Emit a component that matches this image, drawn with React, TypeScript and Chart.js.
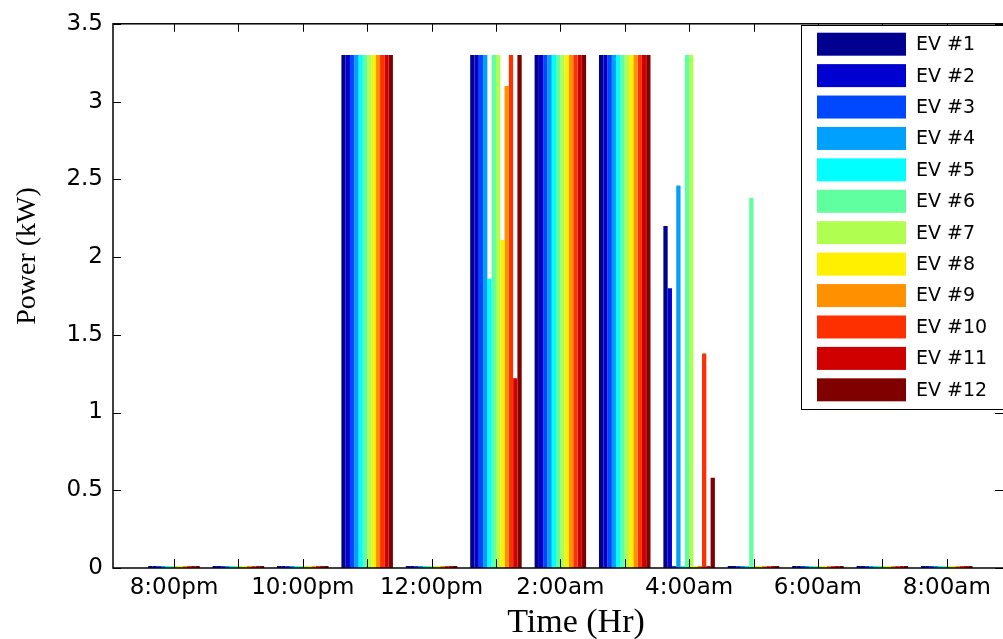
import React, { useEffect, useRef } from 'react';
import { Chart, registerables } from 'chart.js';

Chart.register(...registerables);

// ---- data ----
const HOUR_POSITIONS = [1, 2, 3, 4, 5, 6, 7, 8, 9, 10, 11, 12, 13];
const TICK_LABELS = ['8:00pm', '', '10:00pm', '', '12:00pm', '', '2:00am', '', '4:00am', '', '6:00am', '', '8:00am'];
const EV_LABELS = ['EV #1', 'EV #2', 'EV #3', 'EV #4', 'EV #5', 'EV #6', 'EV #7', 'EV #8', 'EV #9', 'EV #10', 'EV #11', 'EV #12'];
const EV_COLORS = ['#000090', '#0000D0', '#0048FF', '#00A0FF', '#00FFFF', '#60FFA0', '#B0FF50', '#FFF000', '#FF9000', '#FF3000', '#D00000', '#800000'];

const EV1 = [0, 0, 0, 3.3, 0, 3.3, 3.3, 3.3, 2.2, 0, 0, 0, 0];
const EV2 = [0, 0, 0, 3.3, 0, 3.3, 3.3, 3.3, 1.8, 0, 0, 0, 0];
const EV3 = [0, 0, 0, 3.3, 0, 3.3, 3.3, 3.3, 0, 0, 0, 0, 0];
const EV4 = [0, 0, 0, 3.3, 0, 3.3, 3.3, 3.3, 2.46, 0, 0, 0, 0];
const EV5 = [0, 0, 0, 3.3, 0, 1.86, 3.3, 3.3, 0, 0, 0, 0, 0];
const EV6 = [0, 0, 0, 3.3, 0, 3.3, 3.3, 3.3, 3.3, 2.38, 0, 0, 0];
const EV7 = [0, 0, 0, 3.3, 0, 3.3, 3.3, 3.3, 3.3, 0, 0, 0, 0];
const EV8 = [0, 0, 0, 3.3, 0, 2.11, 3.3, 3.3, 0, 0, 0, 0, 0];
const EV9 = [0, 0, 0, 3.3, 0, 3.1, 3.3, 3.3, 0, 0, 0, 0, 0];
const EV10 = [0, 0, 0, 3.3, 0, 3.3, 3.3, 3.3, 1.38, 0, 0, 0, 0];
const EV11 = [0, 0, 0, 3.3, 0, 1.22, 3.3, 3.3, 0, 0, 0, 0, 0];
const EV12 = [0, 0, 0, 3.3, 0, 3.3, 3.3, 3.3, 0.58, 0, 0, 0, 0];
const EV_SERIES = [EV1, EV2, EV3, EV4, EV5, EV6, EV7, EV8, EV9, EV10, EV11, EV12];

const X_MIN = 0.053;
const X_MAX = 13.874;
const Y_MIN = 0;
const Y_MAX = 3.5;
const Y_STEP = 0.5;

const X_TITLE = 'Time (Hr)';
const Y_TITLE = 'Power (kW)';

const decor = {
  id: 'decor',
  afterDraw(chart: any) {
    const { ctx, chartArea } = chart;
    const { left, right, top, bottom } = chartArea;
    const xs = chart.scales.x;
    const ys = chart.scales.y;
    ctx.save();
    // frame
    ctx.strokeStyle = '#000';
    ctx.lineWidth = 1.5;
    ctx.strokeRect(left, top, right - left + 2, bottom - top);
    // inward ticks
    ctx.lineWidth = 1;
    ctx.beginPath();
    xs.ticks.forEach((t: any) => {
      const px = Math.round(xs.getPixelForValue(t.value)) + 0.5;
      ctx.moveTo(px, bottom);
      ctx.lineTo(px, bottom - 9);
      ctx.moveTo(px, top);
      ctx.lineTo(px, top + 8);
    });
    ys.ticks.forEach((t: any) => {
      const py = Math.round(ys.getPixelForValue(t.value)) + 0.5;
      ctx.moveTo(left, py);
      ctx.lineTo(left + 8, py);
      ctx.moveTo(right, py);
      ctx.lineTo(right - 8, py);
    });
    ctx.stroke();

    // axis titles
    ctx.fillStyle = '#000';
    ctx.font = '34px "Liberation Serif", "Times New Roman", serif';
    ctx.textAlign = 'center';
    ctx.textBaseline = 'alphabetic';
    ctx.fillText(X_TITLE, 576, 632);
    ctx.save();
    ctx.translate(35, 256);
    ctx.rotate(-Math.PI / 2);
    ctx.font = '28px "Liberation Serif", "Times New Roman", serif';
    ctx.fillText(Y_TITLE, 0, 0);
    ctx.restore();

    // legend
    const lx = 801;
    const ly = 25;
    const lb = 409;
    ctx.fillStyle = '#fff';
    ctx.fillRect(lx, ly, 1010 - lx, lb - ly);
    ctx.strokeStyle = '#000';
    ctx.lineWidth = 1;
    ctx.strokeRect(lx + 0.5, ly + 0.5, 1010 - lx, lb - ly);
    ctx.font = '19px "DejaVu Sans", sans-serif';
    ctx.textAlign = 'left';
    ctx.textBaseline = 'middle';
    chart.data.datasets.forEach((ds: any, i: number) => {
      const sy = 32.7 + i * 31.42;
      ctx.fillStyle = ds.backgroundColor;
      ctx.fillRect(817, sy, 89, 23);
      ctx.fillStyle = '#000';
      ctx.fillText(ds.label, 916, sy + 12.5);
    });
    ctx.restore();
  },
};

export default function App() {
  const canvasRef = useRef<HTMLCanvasElement | null>(null);

  useEffect(() => {
    if (!canvasRef.current) return;
    const datasets = EV_SERIES.map((series, i) => ({
      label: EV_LABELS[i],
      data: series.map((v, j) => ({ x: HOUR_POSITIONS[j], y: v })),
      backgroundColor: EV_COLORS[i],
      borderWidth: 0,
      minBarLength: 2,
      barPercentage: 1,
      categoryPercentage: 0.8,
    }));
    const chart = new Chart(canvasRef.current, {
      type: 'bar',
      data: { datasets },
      options: {
        animation: false,
        responsive: true,
        maintainAspectRatio: false,
        events: [],
        layout: { padding: { top: 16, right: 0, left: 0, bottom: 0 } },
        plugins: { legend: { display: false }, tooltip: { enabled: false }, title: { display: false } },
        scales: {
          x: {
            type: 'linear',
            min: X_MIN,
            max: X_MAX,
            offset: false,
            grid: { display: false, drawTicks: false },
            border: { display: false },
            ticks: {
              stepSize: 1,
              includeBounds: false,
              autoSkip: false,
              maxRotation: 0,
              minRotation: 0,
              padding: 6,
              color: '#000',
              font: { family: '"DejaVu Sans", sans-serif', size: 23 },
              callback: (value: any) => {
                const idx = HOUR_POSITIONS.indexOf(Number(value));
                return idx >= 0 ? TICK_LABELS[idx] : '';
              },
            },
            afterFit: (scale: any) => {
              scale.height = 71;
            },
          },
          y: {
            type: 'linear',
            min: Y_MIN,
            max: Y_MAX,
            grid: { display: false, drawTicks: false },
            border: { display: false },
            ticks: {
              stepSize: Y_STEP,
              padding: 10,
              color: '#000',
              font: { family: '"DejaVu Sans", sans-serif', size: 23 },
              callback: (value: any) => String(Number(value)),
            },
            afterFit: (scale: any) => {
              scale.width = 113;
            },
          },
        },
      },
      plugins: [decor],
    } as any);
    return () => chart.destroy();
  }, []);

  return (
    <div style={{ position: 'absolute', left: 0, top: 0, width: 1003, height: 639, background: '#fff' }}>
      <canvas ref={canvasRef} />
    </div>
  );
}
